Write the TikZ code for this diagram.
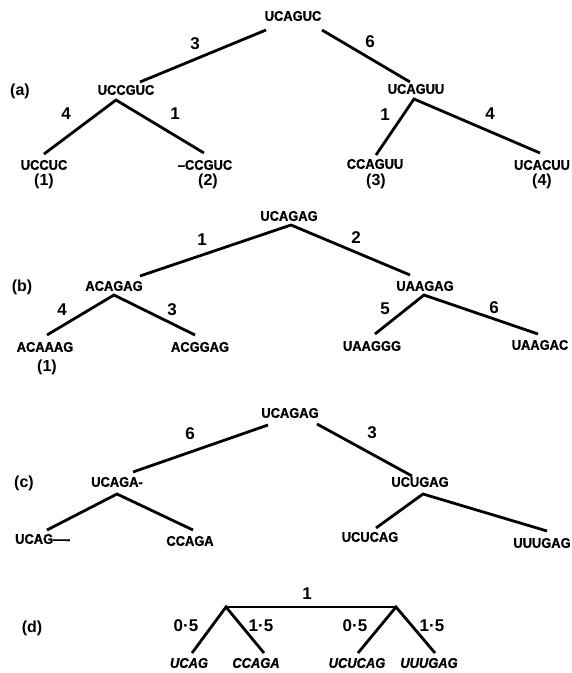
\documentclass[tikz,border=0pt]{standalone}
\usepackage{fontspec}
\setmainfont{Liberation Sans}
% heavy, slightly condensed face for the sequences
\newfontfamily\seqfont{Liberation Sans}[UprightFont={* Bold}, FakeStretch=0.92, FakeBold=1.2]
\newfontfamily\seqslfont{Liberation Sans}[UprightFont={* Bold Italic}, FakeStretch=0.92, FakeBold=1.2]
% face for branch lengths and panel tags
\newfontfamily\labfont{Liberation Sans}[UprightFont={* Bold}]
\begin{document}
\begin{tikzpicture}[x=1pt,y=-1pt,
  seq/.style={font=\seqfont\fontsize{14}{14}\selectfont, inner sep=0pt},
  seqsl/.style={font=\seqslfont\fontsize{14}{14}\selectfont, inner sep=0pt},
  num/.style={font=\labfont\fontsize{17}{17}\selectfont, inner sep=0pt},
  tag/.style={font=\labfont\fontsize{16}{16}\selectfont, inner sep=0pt},
  branch/.style={line width=2.8pt}
]
\useasboundingbox (0,0) rectangle (572,673);
\fill[white] (0,0) rectangle (572,673);

% ---------- tree (a) ----------
\node[tag] (tagA) at (20,91) {(a)};
\node[seq] (a0)  at (293,16)  {UCAGUC};
\node[seq] (a1)  at (126,90)  {UCCGUC};
\node[seq] (a2)  at (416,89)  {UCAGUU};
\node[seq] (a11) at (44,165)  {UCCUC};
\node[seq] (a12) at (205,165) {\textendash CCGUC};
\node[seq] (a21) at (375,164) {CCAGUU};
\node[seq] (a22) at (542,165) {UCACUU};
\node[tag] (ia11) at (44,181)  {(1)};
\node[tag] (ia12) at (208,181) {(2)};
\node[tag] (ia21) at (376,181) {(3)};
\node[tag] (ia22) at (542,181) {(4)};

\coordinate (a0l) at (266,30);
\coordinate (a0r) at (322,30);
\coordinate (a1t) at (140,82);
\coordinate (a2t) at (410,82);
\coordinate (a1p) at (116,100);
\coordinate (a2p) at (414,99);
\coordinate (a11t) at (44,154);
\coordinate (a12t) at (204,153);
\coordinate (a21t) at (376,155);
\coordinate (a22t) at (540,153);

\draw[branch] (a0l) -- (a1t);
\draw[branch] (a0r) -- (a2t);
\draw[branch] (a11t) -- (a1p) -- (a12t);
\draw[branch] (a21t) -- (a2p) -- (a22t);

\node[num] (la1)  at (195,44)  {3};
\node[num] (la2)  at (370,42)  {6};
\node[num] (la11) at (66,114)  {4};
\node[num] (la12) at (175,114) {1};
\node[num] (la21) at (385,115) {1};
\node[num] (la22) at (490,114) {4};

% ---------- tree (b) ----------
\node[tag] (tagB) at (22,287) {(b)};
\node[seq] (b0)  at (289,216) {UCAGAG};
\node[seq] (b1)  at (114,286) {ACAGAG};
\node[seq] (b2)  at (425,286) {UAAGAG};
\node[seq] (b11) at (45,347)  {ACAAAG};
\node[seq] (b12) at (200,347) {ACGGAG};
\node[seq] (b21) at (372,346) {UAAGGG};
\node[seq] (b22) at (540,345) {UAAGAC};
\node[tag] (ib11) at (47,367) {(1)};

\coordinate (b0p) at (291,225);
\coordinate (b1t) at (140,276);
\coordinate (b2t) at (410,275);
\coordinate (b1p) at (114,295);
\coordinate (b2p) at (424,295);
\coordinate (b11t) at (47,335);
\coordinate (b12t) at (195,335);
\coordinate (b21t) at (375,334);
\coordinate (b22t) at (538,334);

\draw[branch] (b1t) -- (b0p) -- (b2t);
\draw[branch] (b11t) -- (b1p) -- (b12t);
\draw[branch] (b21t) -- (b2p) -- (b22t);

\node[num] (lb1)  at (202,240) {1};
\node[num] (lb2)  at (356,238) {2};
\node[num] (lb11) at (62,310)  {4};
\node[num] (lb12) at (172,310) {3};
\node[num] (lb21) at (385,309) {5};
\node[num] (lb22) at (494,308) {6};

% ---------- tree (c) ----------
\node[tag] (tagC) at (24,483) {(c)};
\node[seq] (c0)  at (290,413) {UCAGAG};
\node[seq] (c1)  at (117,482) {UCAGA-};
\node[seq] (c2)  at (420,482) {UCUGAG};
\node[seq,anchor=west] (c11) at (15,539) {UCAG\textemdash-};
\node[seq] (c12) at (190,541) {CCAGA};
\node[seq] (c21) at (370,537) {UCUCAG};
\node[seq] (c22) at (542,543) {UUUGAG};

\coordinate (c0l) at (268,425);
\coordinate (c0r) at (317,424);
\coordinate (c1t) at (133,472);
\coordinate (c2t) at (412,476);
\coordinate (c1p) at (117,494);
\coordinate (c2p) at (423,494);
\coordinate (c11t) at (47,530);
\coordinate (c12t) at (193,530);
\coordinate (c21t) at (376,528);
\coordinate (c22t) at (547,531);

\draw[branch] (c0l) -- (c1t);
\draw[branch] (c0r) -- (c2t);
\draw[branch] (c11t) -- (c1p) -- (c12t);
\draw[branch] (c21t) -- (c2p) -- (c22t);

\node[num] (lc1) at (190,434) {6};
\node[num] (lc2) at (372,433) {3};

% ---------- tree (d) ----------
\node[tag] (tagD) at (32,628) {(d)};
\node[seqsl] (d11) at (189,663) {UCAG};
\node[seqsl] (d12) at (256,663) {CCAGA};
\node[seqsl] (d21) at (357,663) {UCUCAG};
\node[seqsl] (d22) at (429,663) {UUUGAG};

\coordinate (d1p) at (226,607);
\coordinate (d2p) at (396,607);
\coordinate (d11t) at (192,653);
\coordinate (d12t) at (264,653);
\coordinate (d21t) at (358,653);
\coordinate (d22t) at (435,653);

\draw[branch] (d1p) -- (d2p);
\draw[branch] (d11t) -- (d1p) -- (d12t);
\draw[branch] (d21t) -- (d2p) -- (d22t);

\node[num] (ld0)  at (307,594) {1};
\node[num] (ld11) at (186,626) {0·5};
\node[num] (ld12) at (261,626) {1·5};
\node[num] (ld21) at (355,626) {0·5};
\node[num] (ld22) at (432,626) {1·5};
\end{tikzpicture}
\end{document}
